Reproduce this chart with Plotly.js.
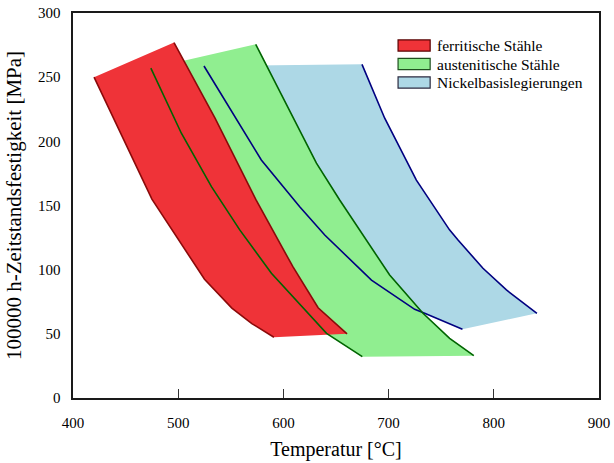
<!DOCTYPE html>
<html>
<head>
<meta charset="utf-8">
<script src="https://cdn.plot.ly/plotly-3.0.1.min.js"></script>
<style>html,body{margin:0;padding:0;background:#fff;}#chart{width:614px;height:463px;}</style>
</head>
<body>
<div id="chart"></div>
<script>
// Ferritic steels (ferritische Stähle)
const ferritLowT = [420, 475, 525, 551, 570, 591];
const ferritLowS = [250, 155, 92.5, 70, 58, 47.3];
const ferritHighT = [496, 535, 574, 609, 633, 641, 660.5];
const ferritHighS = [277, 218, 154.3, 102.3, 70.3, 64.3, 50];

// Austenitic steels (austenitische Stähle)
const austLowT = [474, 503, 531.6, 558.5, 588.6, 609, 641, 675];
const austLowS = [257, 206.3, 164.7, 131, 97.2, 79, 50.4, 32.2];
const austHighT = [573.7, 631.4, 653.5, 672.5, 701, 732.7, 758, 781];
const austHighS = [275.6, 183, 154.3, 131, 95.8, 66, 46.5, 33];

// Nickel-base alloys (Nickelbasislegierungen)
const nickLowT = [524.5, 579, 615.5, 639.3, 683.7, 724.8, 734.3, 770.2];
const nickLowS = [258.7, 185.5, 149.1, 127, 91.9, 69.1, 66, 53.5];
const nickHighT = [674.7, 696.3, 726.4, 739, 757.9, 766, 789.7, 812, 841];
const nickHighS = [260, 218, 169.8, 154.3, 131, 123.1, 101.1, 84.2, 66];

const seriesNames = ['ferritische Stähle', 'austenitische Stähle', 'Nickelbasislegierungen'];
const xTickVals = [400, 500, 600, 700, 800, 900];
const yTickVals = [0, 50, 100, 150, 200, 250, 300];

const fillColors = ['rgb(239,51,56)', 'rgb(144,238,144)', 'rgb(173,216,230)'];
const lineColors = ['#8b0a0a', '#006400', '#000080'];
const legendBorders = ['#5a0000', '#1f4f1f', '#2a2a40'];

const bands = [
  {lt: ferritLowT, ls: ferritLowS, ht: ferritHighT, hs: ferritHighS},
  {lt: austLowT, ls: austLowS, ht: austHighT, hs: austHighS},
  {lt: nickLowT, ls: nickLowS, ht: nickHighT, hs: nickHighS}
];

const traces = [];
// fills: nickel first (bottom), then austenitic, then ferritic
[2, 1, 0].forEach(i => {
  const b = bands[i];
  traces.push({
    type: 'scatter', mode: 'lines',
    x: b.lt.concat(b.ht.slice().reverse()),
    y: b.ls.concat(b.hs.slice().reverse()),
    fill: 'toself', fillcolor: fillColors[i],
    line: {width: 0, color: fillColors[i]},
    name: seriesNames[i], showlegend: false, hoverinfo: 'skip'
  });
});
// boundary lines on top
[2, 1, 0].forEach(i => {
  const b = bands[i];
  traces.push({type: 'scatter', mode: 'lines', x: b.lt, y: b.ls,
    line: {color: lineColors[i], width: 1.6}, showlegend: false, hoverinfo: 'skip'});
  traces.push({type: 'scatter', mode: 'lines', x: b.ht, y: b.hs,
    line: {color: lineColors[i], width: 1.6}, showlegend: false, hoverinfo: 'skip'});
});

// custom legend (boxes + text)
const shapes = [];
const annotations = [];
const rowY = [0.9155, 0.8675, 0.8195];
seriesNames.forEach((n, i) => {
  shapes.push({type: 'rect', xref: 'paper', yref: 'paper',
    x0: 0.618, x1: 0.679, y0: rowY[i] - 0.0145, y1: rowY[i] + 0.0145,
    fillcolor: fillColors[i], line: {color: legendBorders[i], width: 1.2}});
  annotations.push({xref: 'paper', yref: 'paper', x: 0.689, y: rowY[i],
    xanchor: 'left', yanchor: 'middle', showarrow: false, text: n,
    font: {family: 'Liberation Serif', size: 15.5, color: '#000'}});
});

const layout = {
  width: 614, height: 463,
  margin: {l: 73, r: 15, t: 13, b: 65},
  paper_bgcolor: '#fff', plot_bgcolor: '#fff',
  font: {family: 'Liberation Serif', size: 15, color: '#000'},
  showlegend: false,
  xaxis: {
    range: [400, 900], tickvals: xTickVals, ticktext: xTickVals.map(String),
    showgrid: false, zeroline: false,
    showline: true, mirror: true, linecolor: '#1a1a1a', linewidth: 1.6,
    ticks: 'inside', ticklen: 9, tickcolor: '#333', tickwidth: 1,
    ticklabelstandoff: 10,
    tickfont: {family: 'Liberation Serif', size: 15, color: '#000'},
    title: {text: 'Temperatur [°C]', font: {family: 'Liberation Serif', size: 20, color: '#000'}, standoff: 12}
  },
  yaxis: {
    range: [0, 300], tickvals: yTickVals, ticktext: yTickVals.map(String),
    showgrid: false, zeroline: false,
    showline: true, mirror: true, linecolor: '#1a1a1a', linewidth: 1.6,
    ticks: '', ticklabelstandoff: 8,
    tickfont: {family: 'Liberation Serif', size: 15, color: '#000'},
    title: {text: '100000 h-Zeitstandsfestigkeit [MPa]', font: {family: 'Liberation Serif', size: 21, color: '#000'}, standoff: 10}
  },
  shapes: shapes,
  annotations: annotations
};

Plotly.newPlot('chart', traces, layout, {displayModeBar: false, staticPlot: true});
</script>
</body>
</html>
